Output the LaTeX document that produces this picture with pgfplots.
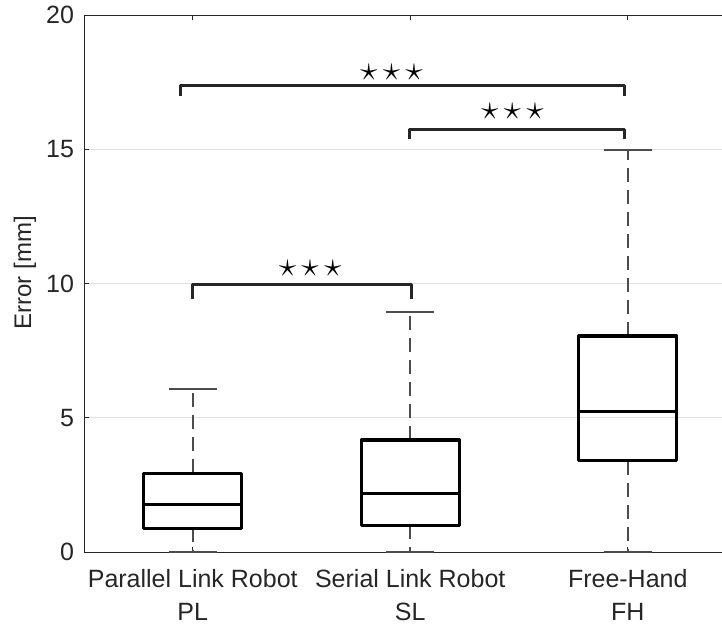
\documentclass[border=0pt]{standalone}
\usepackage{fontspec}
\setmainfont{Liberation Sans}
\usepackage{pgfplots}
\pgfplotsset{compat=1.18}
\usepgfplotslibrary{statistics}

\definecolor{axgray}{gray}{0.15}
\definecolor{gridgray}{gray}{0.88}
\definecolor{whiskgray}{gray}{0.30}

\tikzset{
  whiskerline/.style={draw=whiskgray, line width=0.9pt, dash pattern=on 7pt off 4pt},
  whiskercap/.style={draw=whiskgray, line width=0.9pt, solid},
  sigbar/.style={draw=axgray, line width=1.5pt, line join=round, line cap=butt},
}

\pgfplotsset{
  boxplot/draw/lower whisker/.code={%
    \draw[whiskerline]
      (boxplot box cs:\pgfplotsboxplotvalue{lower quartile},0.5) --
      (boxplot box cs:\pgfplotsboxplotvalue{lower whisker},0.5);
    \draw[whiskercap]
      (boxplot whisker cs:\pgfplotsboxplotvalue{lower whisker},0) --
      (boxplot whisker cs:\pgfplotsboxplotvalue{lower whisker},1);
  },
  boxplot/draw/upper whisker/.code={%
    \draw[whiskerline]
      (boxplot box cs:\pgfplotsboxplotvalue{upper quartile},0.5) --
      (boxplot box cs:\pgfplotsboxplotvalue{upper whisker},0.5);
    \draw[whiskercap]
      (boxplot whisker cs:\pgfplotsboxplotvalue{upper whisker},0) --
      (boxplot whisker cs:\pgfplotsboxplotvalue{upper whisker},1);
  },
}

\newcommand{\stars}{\fontsize{17}{17}\selectfont$\star\mkern-1mu\star\mkern-1mu\star$}

\begin{document}
\begin{tikzpicture}
\begin{axis}[
  at={(0,0)}, anchor=south west,
  scale only axis,
  width=326.25pt, height=268.5pt,
  xmin=0.5, xmax=3.5,
  ymin=0, ymax=20,
  xtick={1,2,3},
  xticklabels={{Parallel Link Robot\\PL},{Serial Link Robot\\SL},{Free-Hand\\FH}},
  ytick={0,5,10,15,20},
  ymajorgrids,
  grid style={draw=gridgray, line width=0.5pt},
  tick align=inside,
  major tick length=2.5pt,
  tick style={draw=axgray, line width=0.5pt},
  axis line style={draw=axgray, line width=0.5pt},
  /pgf/number format/assume math mode=true,
  ticklabel style={font=\fontsize{12.5}{16.5}\selectfont, text=axgray},
  xticklabel style={align=center, yshift=-5pt},
  yticklabel style={xshift=-1.5pt},
  ylabel={Error [mm]},
  ylabel style={font=\fontsize{12}{14}\selectfont, text=axgray,
    at={(axis description cs:-0.0904,0.52)}, anchor=center, rotate=0},
  clip=false,
  boxplot/draw direction=y,
  boxplot/box extend=0.45,
  boxplot/whisker extend=0.22,
]

% Parallel Link Robot
\addplot[black, line width=1.65pt, line join=round,
  boxplot prepared={draw position=1,
    lower whisker=0, lower quartile=0.88, median=1.78,
    upper quartile=2.93, upper whisker=6.07}] coordinates {};

% Serial Link Robot
\addplot[black, line width=1.65pt, line join=round,
  boxplot prepared={draw position=2,
    lower whisker=0, lower quartile=1.00, median=2.19,
    upper quartile=4.17, upper whisker=8.93}] coordinates {};

% Free-Hand
\addplot[black, line width=1.65pt, line join=round,
  boxplot prepared={draw position=3,
    lower whisker=0, lower quartile=3.40, median=5.23,
    upper quartile=8.04, upper whisker=14.97}] coordinates {};

% significance brackets
\addplot[sigbar] coordinates {(0.942,16.98) (0.942,17.39) (2.983,17.39) (2.983,16.98)};
\addplot[sigbar] coordinates {(1.995,15.37) (1.995,15.75) (2.986,15.75) (2.986,15.37)};
\addplot[sigbar] coordinates {(1.000,9.41) (1.000,9.98) (2.007,9.98) (2.007,9.41)};

\node[text=black] at (axis cs:1.914,17.87) {\stars};
\node[text=black] at (axis cs:2.470,16.40) {\stars};
\node[text=black] at (axis cs:1.540,10.57) {\stars};

\end{axis}
\pgfresetboundingbox
\useasboundingbox (-42pt,-38pt) rectangle (319pt,276pt);
\end{tikzpicture}
\end{document}
